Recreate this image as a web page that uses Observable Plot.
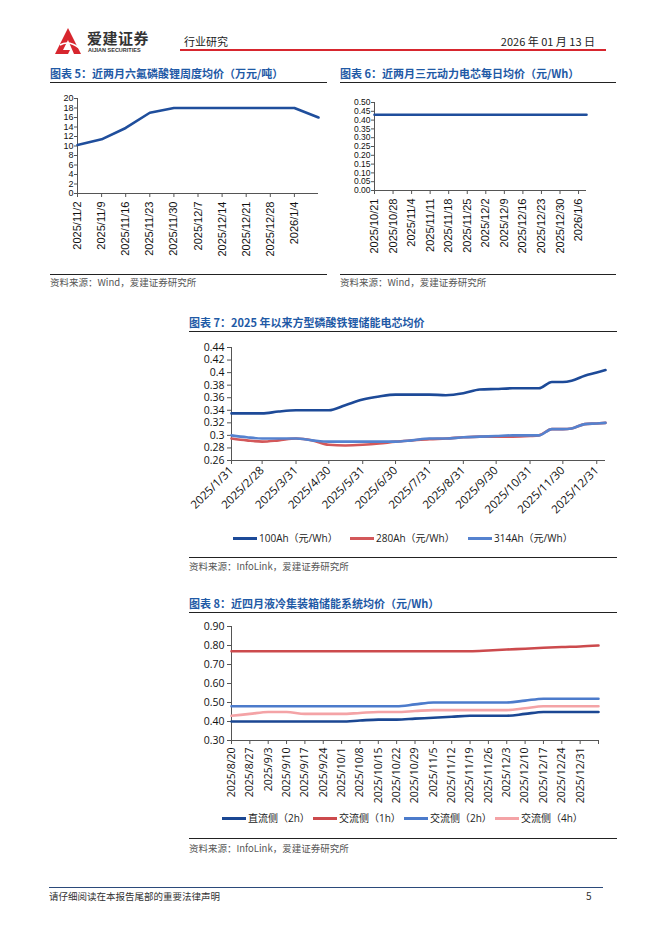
<!DOCTYPE html>
<html><head><meta charset="utf-8">
<script src="https://cdn.jsdelivr.net/npm/d3@7"></script>
<script src="https://cdn.jsdelivr.net/npm/@observablehq/plot@0.6"></script>
<style>
body{margin:0;background:#fff;}
#page{position:relative;width:662px;height:936px;background:#fff;font-family:"Noto Sans CJK SC","Noto Sans",sans-serif;color:#222;overflow:hidden}
.abs{position:absolute;white-space:nowrap;line-height:14px;height:14px}
.title{font-size:11px;font-weight:bold;color:#1f5aa6;}
.rule{position:absolute;height:0;border-top:1px solid #222}
.src{font-size:9.5px;color:#555}
.leg{font-size:10px;color:#222;font-family:"Open Sans","Noto Sans CJK SC",sans-serif}
.sw{position:absolute;height:3px}
</style></head><body><div id="page"></div>
<script>
// ---------------- data ----------------
// Chart 5: LiPF6 weekly price (万元/吨)
const lipf6Dates = ["2025-11-02","2025-11-09","2025-11-16","2025-11-23","2025-11-30","2025-12-07","2025-12-14","2025-12-21","2025-12-28","2026-01-04","2026-01-11"];
const lipf6Price = [10.2, 11.4, 13.8, 17.0, 18, 18, 18, 18, 18, 18, 16];
const lipf6TickDates = ["2025-11-02","2025-11-09","2025-11-16","2025-11-23","2025-11-30","2025-12-07","2025-12-14","2025-12-21","2025-12-28","2026-01-04"];
const lipf6YTicks = [0,2,4,6,8,10,12,14,16,18,20];

// Chart 6: NCM power cell daily price (元/Wh)
const ncmDates = ["2025-10-21","2025-10-28","2025-11-04","2025-11-11","2025-11-18","2025-11-25","2025-12-02","2025-12-09","2025-12-16","2025-12-23","2025-12-30","2026-01-06","2026-01-09"];
const ncmPrice = [0.43,0.43,0.43,0.43,0.43,0.43,0.43,0.43,0.43,0.43,0.43,0.43,0.43];
const ncmTickDates = ["2025-10-21","2025-10-28","2025-11-04","2025-11-11","2025-11-18","2025-11-25","2025-12-02","2025-12-09","2025-12-16","2025-12-23","2025-12-30","2026-01-06"];
const ncmYTicks = [0,0.05,0.10,0.15,0.20,0.25,0.30,0.35,0.40,0.45,0.50];

// Chart 7: LFP storage cell price (元/Wh)
const cellDates = ["2025-01-31","2025-02-14","2025-02-28","2025-03-15","2025-03-31","2025-04-15","2025-04-30","2025-05-15","2025-05-31","2025-06-15","2025-06-30","2025-07-15","2025-07-31","2025-08-15","2025-08-31","2025-09-15","2025-09-30","2025-10-15","2025-10-31","2025-11-08","2025-11-20","2025-11-30","2025-12-08","2025-12-20","2025-12-31","2026-01-08"];
const cell100Ah = [0.335,0.335,0.335,0.338,0.340,0.340,0.340,0.348,0.357,0.362,0.365,0.365,0.365,0.364,0.367,0.373,0.374,0.375,0.375,0.375,0.385,0.385,0.387,0.395,0.400,0.404];
const cell280Ah = [0.295,0.292,0.290,0.292,0.295,0.292,0.285,0.284,0.285,0.287,0.290,0.292,0.294,0.295,0.297,0.298,0.298,0.298,0.299,0.300,0.310,0.310,0.311,0.318,0.319,0.320];
const cell314Ah = [0.300,0.297,0.295,0.295,0.295,0.292,0.290,0.290,0.290,0.290,0.290,0.292,0.295,0.295,0.297,0.298,0.299,0.300,0.300,0.300,0.310,0.310,0.311,0.318,0.319,0.320];
const cellSeries = ["100Ah（元/Wh）","280Ah（元/Wh）","314Ah（元/Wh）"];
const cellColors = ["#1d4a98","#d3585a","#5582cf"];
const cellTickDates = ["2025-01-31","2025-02-28","2025-03-31","2025-04-30","2025-05-31","2025-06-30","2025-07-31","2025-08-31","2025-09-30","2025-10-31","2025-11-30","2025-12-31"];
const cellYTicks = [0.26,0.28,0.30,0.32,0.34,0.36,0.38,0.40,0.42,0.44];

// Chart 8: liquid-cooled container system price (元/Wh)
const sysDates = ["2025-08-20","2025-08-27","2025-09-03","2025-09-10","2025-09-17","2025-09-24","2025-10-01","2025-10-08","2025-10-15","2025-10-22","2025-10-29","2025-11-05","2025-11-12","2025-11-19","2025-11-26","2025-12-03","2025-12-10","2025-12-17","2025-12-24","2025-12-31","2026-01-07"];
const sysDC2h = [0.40,0.40,0.40,0.40,0.40,0.40,0.40,0.405,0.41,0.41,0.415,0.42,0.425,0.43,0.43,0.43,0.44,0.45,0.45,0.45,0.45];
const sysAC1h = [0.77,0.77,0.77,0.77,0.77,0.77,0.77,0.77,0.77,0.77,0.77,0.77,0.77,0.77,0.774,0.779,0.783,0.788,0.792,0.795,0.80];
const sysAC2h = [0.48,0.48,0.48,0.48,0.48,0.48,0.48,0.48,0.48,0.48,0.49,0.50,0.50,0.50,0.50,0.50,0.51,0.52,0.52,0.52,0.52];
const sysAC4h = [0.43,0.44,0.45,0.45,0.44,0.44,0.44,0.445,0.45,0.45,0.455,0.46,0.46,0.46,0.46,0.46,0.47,0.48,0.48,0.48,0.48];
const sysSeries = ["直流侧（2h）","交流侧（1h）","交流侧（2h）","交流侧（4h）"];
const sysColors = ["#1b4793","#cc4a4d","#4c7bcb","#f4a3a6"];
const sysTickLabels = ["2025/8/20","2025/8/27","2025/9/3","2025/9/10","2025/9/17","2025/9/24","2025/10/1","2025/10/8","2025/10/15","2025/10/22","2025/10/29","2025/11/5","2025/11/12","2025/11/19","2025/11/26","2025/12/3","2025/12/10","2025/12/17","2025/12/24","2025/12/31"];
const sysYTicks = [0.30,0.40,0.50,0.60,0.70,0.80,0.90];

// ---------------- helpers ----------------
const D = s => new Date(s + "T00:00:00Z");
const fmtDate = d3.utcFormat("%Y/%-m/%-d");
const page = document.getElementById("page");
function put(el, left, top){ el.style.position="absolute"; el.style.left=left+"px"; el.style.top=top+"px"; page.appendChild(el); return el; }
function text(cls, str, left, cy, extra){ const d=document.createElement("div"); d.className="abs "+cls; d.textContent=str; d.style.left=left+"px"; d.style.top=(cy-7)+"px"; if(extra) Object.assign(d.style, extra); page.appendChild(d); return d; }
function rule(x1, x2, y, color, w){ const d=document.createElement("div"); d.className="rule"; d.style.left=x1+"px"; d.style.width=(x2-x1)+"px"; d.style.top=y+"px"; if(color) d.style.borderTopColor=color; if(w) d.style.borderTopWidth=w+"px"; page.appendChild(d); }
function legend(items, colors, y, swX, txtX){ items.forEach((s,i)=>{ const sw=document.createElement("div"); sw.className="sw"; sw.style.background=colors[i]; sw.style.left=swX[i]+"px"; sw.style.width="24px"; sw.style.top=(y-1.5)+"px"; page.appendChild(sw); text("leg", s, txtX[i], y); }); }

// ---------------- header ----------------
const logo = document.createElementNS("http://www.w3.org/2000/svg","svg");
logo.setAttribute("width","30"); logo.setAttribute("height","26");
logo.innerHTML = '<path d="M13 0 L26 26 L19 26 L13 12 L8 22 L15 22 L13 26 L0 26 Z" fill="#d7262e"/><path d="M5 17 Q14 12 24 20" stroke="#fff" stroke-width="1.5" fill="none"/>';
put(logo, 55, 28);
text("", "爱建证券", 87, 38, {fontSize:"15px", fontWeight:"bold", color:"#333", letterSpacing:"0.5px"});
text("", "AIJIAN SECURITIES", 88, 50, {fontSize:"5.5px", fontWeight:"bold", color:"#333", fontFamily:"Liberation Sans,sans-serif"});
text("", "行业研究", 184, 41, {fontSize:"11px", color:"#222"});
text("", "2026 年 01 月 13 日", 498, 41, {fontSize:"11px", color:"#222", width:"97px", textAlign:"right"});
rule(180, 606, 49, "#d7262e", 2.5);

// ---------------- chart 5 ----------------
text("title", "图表 5：近两月六氟磷酸锂周度均价（万元/吨）", 50, 73);
rule(50, 327, 82);
const lipf6 = lipf6Dates.map((d,i)=>({date:D(d), v:lipf6Price[i]}));
put(Plot.plot({
  width:290, height:170, marginLeft:37, marginRight:12, marginTop:10, marginBottom:65,
  style:{fontFamily:"Liberation Sans, Arial, sans-serif", fontSize:"11px", color:"#111", background:"transparent", overflow:"visible"},
  x:{type:"utc", domain:[D(lipf6Dates[0]), D(lipf6Dates[lipf6Dates.length-1])], label:null},
  y:{domain:[0,20], label:null},
  marks:[
    Plot.axisX({ticks:lipf6TickDates.map(D), tickFormat:fmtDate, tickRotate:-90, tickSize:4, tickPadding:4, stroke:"#555", label:null}),
    Plot.axisY({ticks:lipf6YTicks, tickSize:3, tickPadding:1, stroke:"#555", fontSize:"9px", label:null}),
    Plot.ruleY([0], {stroke:"#555"}),
    Plot.ruleX([D(lipf6Dates[0])], {stroke:"#555"}),
    Plot.line(lipf6, {x:"date", y:"v", stroke:"#1f4e9c", strokeWidth:2.6})
  ]
}), 40, 88);
rule(50, 327, 274);
text("src", "资料来源：Wind，爱建证券研究所", 50, 282);

// ---------------- chart 6 ----------------
text("title", "图表 6：近两月三元动力电芯每日均价（元/Wh）", 340, 73);
rule(340, 616, 82);
const ncm = ncmDates.map((d,i)=>({date:D(d), v:ncmPrice[i]}));
put(Plot.plot({
  width:300, height:160, marginLeft:44, marginRight:44, marginTop:10, marginBottom:62,
  style:{fontFamily:"Liberation Sans, Arial, sans-serif", fontSize:"11px", color:"#111", background:"transparent", overflow:"visible"},
  x:{type:"utc", domain:[D(ncmDates[0]), D(ncmDates[ncmDates.length-1])], label:null},
  y:{domain:[0,0.5], label:null},
  marks:[
    Plot.axisX({ticks:ncmTickDates.map(D), tickFormat:fmtDate, tickRotate:-90, tickSize:4, tickPadding:4, stroke:"#555", label:null}),
    Plot.axisY({ticks:ncmYTicks, tickFormat:d3.format(".2f"), tickSize:3, tickPadding:1, stroke:"#555", fontSize:"8.5px", label:null}),
    Plot.ruleY([0], {stroke:"#555"}),
    Plot.ruleX([D(ncmDates[0])], {stroke:"#555"}),
    Plot.line(ncm, {x:"date", y:"v", stroke:"#1f4e9c", strokeWidth:2.6})
  ]
}), 330, 92);
rule(340, 616, 274);
text("src", "资料来源：Wind，爱建证券研究所", 340, 282);

// ---------------- chart 7 ----------------
text("title", "图表 7：2025 年以来方型磷酸铁锂储能电芯均价", 189, 322);
rule(189, 617, 331);
const cellData = [];
[cell100Ah, cell280Ah, cell314Ah].forEach((arr, k) => arr.forEach((v,i)=>cellData.push({date:D(cellDates[i]), v, s:cellSeries[k]})));
put(Plot.plot({
  width:440, height:188, marginLeft:51, marginRight:15, marginTop:10, marginBottom:65,
  style:{fontFamily:"Open Sans, Noto Sans, sans-serif", fontSize:"10.5px", color:"#111", background:"transparent", overflow:"visible"},
  x:{type:"utc", domain:[D(cellDates[0]), D(cellDates[cellDates.length-1])], label:null},
  y:{domain:[0.26,0.44], label:null},
  color:{domain:cellSeries, range:cellColors},
  marks:[
    Plot.axisX({ticks:cellTickDates.map(D), tickFormat:fmtDate, tickRotate:-45, tickSize:4, tickPadding:4, stroke:"#555", fontSize:"11.5px", label:null}),
    Plot.axisY({ticks:cellYTicks, tickFormat:d3.format(".2~f"), tickSize:4, tickPadding:3, stroke:"#555", label:null}),
    Plot.ruleY([0.26], {stroke:"#555"}),
    Plot.ruleX([D(cellDates[0])], {stroke:"#555"}),
    ...cellSeries.map(s => Plot.line(cellData.filter(d=>d.s===s), {x:"date", y:"v", stroke:"s", strokeWidth:2.6, curve:"monotone-x"}))
  ]
}), 180, 337);
legend(cellSeries, cellColors, 538, [233, 350, 468], [259, 376, 494]);
rule(189, 617, 557);
text("src", "资料来源：InfoLink，爱建证券研究所", 189, 566);

// ---------------- chart 8 ----------------
text("title", "图表 8：近四月液冷集装箱储能系统均价（元/Wh）", 189, 603);
rule(189, 617, 612);
const sysData = [];
[sysDC2h, sysAC1h, sysAC2h, sysAC4h].forEach((arr,k)=>arr.forEach((v,i)=>sysData.push({date:D(sysDates[i]), v, s:sysSeries[k]})));
const lblSet = new Set(sysTickLabels);
put(Plot.plot({
  width:440, height:190, marginLeft:51, marginRight:22, marginTop:10, marginBottom:66,
  style:{fontFamily:"Open Sans, Noto Sans, sans-serif", fontSize:"10.5px", color:"#111", background:"transparent", overflow:"visible"},
  x:{type:"utc", domain:[D(sysDates[0]), D(sysDates[sysDates.length-1])], label:null},
  y:{domain:[0.30,0.90], label:null},
  color:{domain:sysSeries, range:sysColors},
  marks:[
    Plot.axisX({ticks:sysDates.map(D), tickFormat:d => lblSet.has(fmtDate(d)) ? fmtDate(d) : "", tickRotate:-90, tickSize:4, tickPadding:3, stroke:"#555", label:null}),
    Plot.axisY({ticks:sysYTicks, tickFormat:d3.format(".2f"), tickSize:4, tickPadding:3, stroke:"#555", label:null}),
    Plot.ruleY([0.30], {stroke:"#555"}),
    Plot.ruleX([D(sysDates[0])], {stroke:"#555"}),
    ...[sysSeries[3], sysSeries[0], sysSeries[2], sysSeries[1]].map(s => Plot.line(sysData.filter(d=>d.s===s), {x:"date", y:"v", stroke:"s", strokeWidth:2.6, curve:"monotone-x"}))
  ]
}), 180, 616);
legend(sysSeries, sysColors, 818, [222, 313, 404, 495], [248, 339, 430, 521]);
rule(189, 617, 838);
text("src", "资料来源：InfoLink，爱建证券研究所", 189, 848);

// ---------------- footer ----------------
rule(49, 603, 887, "#2b4a7a", 1);
text("", "请仔细阅读在本报告尾部的重要法律声明", 49, 896, {fontSize:"9.5px", color:"#333"});
text("", "5", 586, 896, {fontSize:"10px", color:"#333"});
</script></body></html>
